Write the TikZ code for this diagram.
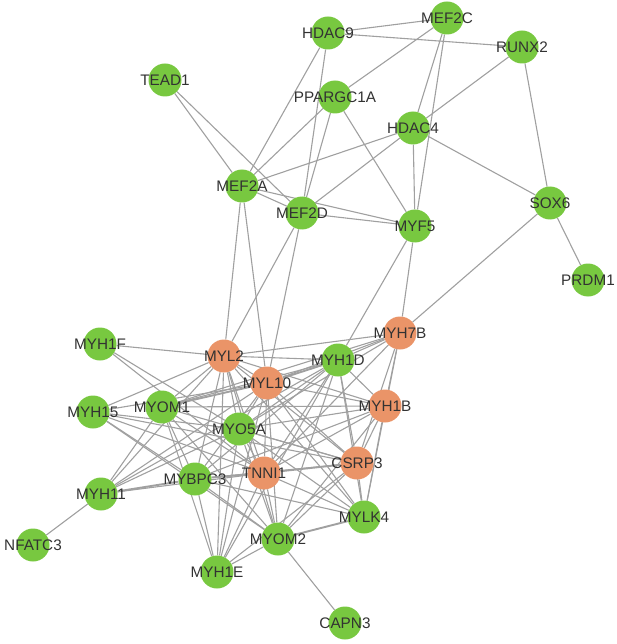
\documentclass[tikz,border=0pt]{standalone}
\usepackage{fontspec}
\setmainfont{Liberation Sans}
\usetikzlibrary{backgrounds}
\definecolor{ngreen}{RGB}{120,200,64}
\definecolor{norange}{RGB}{234,148,104}
\definecolor{edgegray}{RGB}{160,160,160}
\definecolor{txt}{RGB}{50,50,50}
\begin{document}
\begin{tikzpicture}[x=1pt,y=-1pt,
  gnode/.style={circle,fill=ngreen,minimum size=33pt,inner sep=0pt},
  onode/.style={circle,fill=norange,minimum size=33pt,inner sep=0pt},
  lbl/.style={text=txt,font=\fontsize{15.3}{18}\selectfont,inner sep=0pt},
  edge/.style={draw=edgegray,line width=1.1pt},
  dedge/.style={draw=edgegray,line width=1.9pt}]
\useasboundingbox (0,0) rectangle (616,644);
\foreach \n/\x/\y/\s in {
  HDAC9/328/33/gnode, MEF2C/447/18/gnode, RUNX2/522/47/gnode, TEAD1/165/80/gnode,
  PPARGC1A/335/97/gnode, HDAC4/413/128/gnode, MEF2A/242/186/gnode, MEF2D/302/213/gnode,
  MYF5/415/226/gnode, SOX6/550/203/gnode, PRDM1/588/280/gnode,
  MYH7B/400/333/onode, MYH1F/100/344/gnode, MYL2/224/356/onode, MYH1D/338/360/gnode,
  MYL10/267/383/onode, MYOM1/162/407/gnode, MYH15/93/412/gnode, MYH1B/385/406/onode,
  MYO5A/239/429/gnode, CSRP3/357/463/onode, TNNI1/264/473/onode, MYBPC3/195/479/gnode,
  MYH11/101/494/gnode, MYLK4/364/517/gnode, MYOM2/278/539/gnode, MYH1E/217/572/gnode,
  NFATC3/33/545/gnode, CAPN3/345/623/gnode}
  \node[\s] (\n) at (\x,\y) {};
\begin{scope}[on background layer]
\foreach \a/\b in {
  HDAC9/MEF2C, HDAC9/RUNX2, HDAC9/MEF2A, HDAC9/MEF2D, MEF2C/PPARGC1A, MEF2C/HDAC4,
  MEF2C/MYF5, RUNX2/HDAC4, RUNX2/SOX6, TEAD1/MEF2A, TEAD1/MEF2D, PPARGC1A/MEF2A,
  PPARGC1A/MEF2D, PPARGC1A/MYF5, HDAC4/MEF2A, HDAC4/MEF2D, HDAC4/MYF5, HDAC4/SOX6,
  MEF2A/MEF2D, MEF2A/MYF5, MEF2D/MYF5, SOX6/PRDM1, SOX6/MYH7B, MYF5/MYH7B, MYF5/MYH1D,
  MEF2A/MYL2, MEF2A/MYL10, MEF2D/MYL2, MEF2D/MYL10,
  MYL2/MYL10, MYL2/MYH7B, MYL2/MYH1B, MYL2/CSRP3, MYL2/TNNI1, MYL10/MYH7B, MYL10/MYH1B,
  MYL10/CSRP3, MYL10/TNNI1, MYH7B/MYH1B, MYH7B/CSRP3, MYH7B/TNNI1, MYH1B/CSRP3, MYH1B/TNNI1,
  MYH1F/MYL2, MYH1F/MYO5A, MYH1F/TNNI1,
  MYH15/MYL2, MYH15/MYL10, MYH15/MYO5A, MYH15/TNNI1, MYH15/CSRP3, MYH15/MYOM2,
  MYOM1/MYL2, MYOM1/MYH1D, MYOM1/MYH7B, MYOM1/TNNI1, MYOM1/CSRP3, MYOM1/MYH1B,
  MYOM1/MYOM2, MYOM1/MYH1E, MYOM1/MYH11,
  MYO5A/MYL2, MYO5A/MYL10, MYO5A/MYH1D, MYO5A/MYH7B, MYO5A/MYH1B, MYO5A/CSRP3, MYO5A/TNNI1,
  MYO5A/MYOM2, MYO5A/MYH1E, MYO5A/MYH11, MYO5A/MYLK4,
  MYBPC3/MYL2, MYBPC3/MYL10, MYBPC3/MYH1D, MYBPC3/MYH1B, MYBPC3/CSRP3, MYBPC3/MYOM2,
  MYBPC3/MYH1E, MYBPC3/MYLK4, MYBPC3/MYH15, MYBPC3/MYOM1,
  MYH11/NFATC3, MYH11/TNNI1, MYH11/MYL2, MYH11/MYL10, MYH11/MYH1D,
  MYH1D/MYL2, MYH1D/MYH7B, MYH1D/MYH1B, MYH1D/CSRP3, MYH1D/TNNI1, MYH1D/MYOM2,
  MYH1D/MYH1E, MYH1D/MYLK4,
  MYLK4/CSRP3, MYLK4/MYH1B, MYLK4/MYH7B, MYLK4/TNNI1, MYLK4/MYL10, MYLK4/MYL2,
  MYOM2/CAPN3, MYOM2/MYH1E, MYOM2/TNNI1, MYOM2/CSRP3, MYOM2/MYH1B, MYOM2/MYL10, MYOM2/MYL2,
  MYH1E/TNNI1, MYH1E/MYL2, MYH1E/MYL10, MYH1E/CSRP3}
  \draw[edge] (\a) -- (\b);
\foreach \a/\b in {CSRP3/TNNI1, MYOM1/MYL10, MYBPC3/MYH11, MYBPC3/TNNI1, MYH1D/MYL10, MYLK4/MYOM2}
  \draw[dedge] (\a) -- (\b);
\end{scope}
\foreach \n in {HDAC9, MEF2C, RUNX2, TEAD1, PPARGC1A, HDAC4, MEF2A, MEF2D, MYF5, SOX6, PRDM1,
  MYH7B, MYH1F, MYL2, MYH1D, MYL10, MYOM1, MYH15, MYH1B, MYO5A, CSRP3, TNNI1, MYBPC3,
  MYH11, MYLK4, MYOM2, MYH1E, NFATC3, CAPN3}
  \node[lbl] (\n-t) at (\n) {\n};
\end{tikzpicture}
\end{document}
